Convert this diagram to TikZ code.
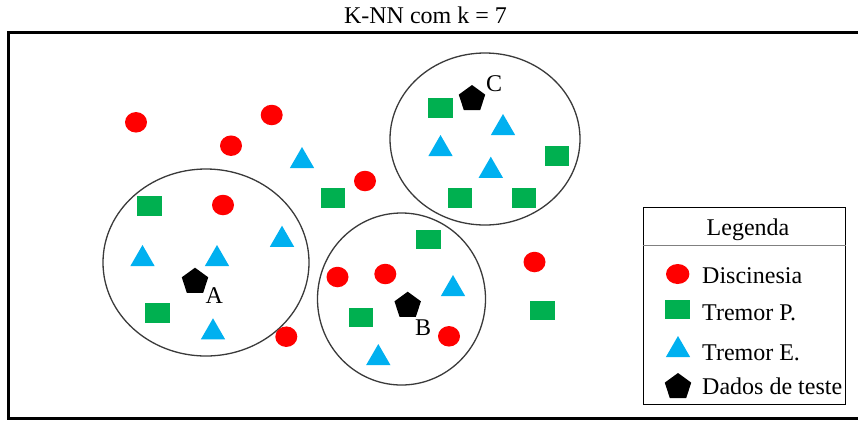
\documentclass[tikz,border=0pt]{standalone}
\usepackage{fontspec}
\setmainfont{Liberation Serif}
\usetikzlibrary{shapes.geometric}

\definecolor{disc}{HTML}{FF0000}
\definecolor{tremp}{HTML}{00B050}
\definecolor{treme}{HTML}{00B0F0}
\definecolor{ringgray}{HTML}{3A3A3A}

\tikzset{
  txt/.style={inner sep=0pt, font=\fontsize{24}{28}\selectfont},
  dot/.style={ellipse, fill=disc, inner sep=0pt, minimum width=22pt, minimum height=20.5pt},
  sq/.style={rectangle, fill=tremp, inner sep=0pt, minimum width=24.5pt, minimum height=19.5pt},
  tri/.style={regular polygon, regular polygon sides=3, fill=treme, inner sep=0pt, minimum size=28.2pt},
  pent/.style={regular polygon, regular polygon sides=5, fill=black, inner sep=0pt, minimum size=27.8pt},
  ring/.style={ellipse, draw=ringgray, line width=1.3pt, inner sep=0pt},
}

\begin{document}
\begin{tikzpicture}[x=1pt, y=-1pt]
\useasboundingbox (0,0) rectangle (858,421);
\fill[white] (0,0) rectangle (858,421);

% title
\node[txt, anchor=base] (title) at (425.5,23) {K-NN com k = 7};

% outer frame (open on the right)
\draw[line width=3pt] (870,32.3) -- (8.5,32.3) -- (8.5,418.5) -- (870,418.5);

% neighbourhoods of the test points
\node[ring, minimum width=206pt, minimum height=187pt] (ringA) at (206,262.5) {};
\node[ring, minimum width=168pt, minimum height=172pt] (ringB) at (401.5,299) {};
\node[ring, minimum width=190pt, minimum height=172pt] (ringC) at (485,139) {};

% Discinesia
\node[dot] (d1) at (136,122.3) {};
\node[dot] (d2) at (271.7,115) {};
\node[dot] (d3) at (231,145.7) {};
\node[dot] (d4) at (365,181) {};
\node[dot] (d5) at (223,205) {};
\node[dot] (d6) at (286.3,336.7) {};
\node[dot] (d7) at (337.5,277) {};
\node[dot] (d8) at (385.3,274) {};
\node[dot] (d9) at (449,336.3) {};
\node[dot] (d10) at (534.5,262) {};

% Tremor P.
\node[sq] (p1) at (149.7,206) {};
\node[sq] (p2) at (333,198) {};
\node[sq] (p3) at (157.5,313) {};
\node[sq] (p4) at (428.5,239.5) {};
\node[sq] (p5) at (360.8,317.5) {};
\node[sq] (p6) at (440.5,107.8) {};
\node[sq] (p7) at (556.8,156.2) {};
\node[sq] (p8) at (459.8,198) {};
\node[sq] (p9) at (524.2,198) {};
\node[sq] (p10) at (542.3,310.3) {};

% Tremor E.
\node[tri] (e1) at (302,161.1) {};
\node[tri] (e2) at (282,239.8) {};
\node[tri] (e3) at (142.5,259.1) {};
\node[tri] (e4) at (217,259.1) {};
\node[tri] (e5) at (213,332.4) {};
\node[tri] (e6) at (453,289.1) {};
\node[tri] (e7) at (378.3,358.1) {};
\node[tri] (e8) at (503,128.1) {};
\node[tri] (e9) at (440.5,149.1) {};
\node[tri] (e10) at (490.8,170.8) {};

% test points
\node[pent] (tA) at (195,281.6) {};
\node[pent] (tB) at (407.7,305.6) {};
\node[pent] (tC) at (472,98.9) {};
\node[txt, anchor=base west] (lA) at (205.5,303.3) {A};
\node[txt, anchor=base west] (lB) at (415,335) {B};
\node[txt, anchor=base west] (lC) at (486,91.7) {C};

% legend
\node[draw, line width=1pt, inner sep=0pt, minimum width=202pt, minimum height=196.5pt] (legend) at (744,305.75) {};
\draw[line width=1pt, gray] (legend.west |- 0,245.7) -- (legend.east |- 0,245.7);
\node[txt, anchor=base] (legTitle) at (748,235) {Legenda};

\node[dot, minimum width=23.4pt, minimum height=20pt] (kd) at (677.7,274) {};
\node[sq, minimum width=25pt, minimum height=19pt] (kp) at (677.5,309.5) {};
\node[tri] (ke) at (678,350.1) {};
\node[pent] (kt) at (678,386.9) {};

\node[txt, anchor=base west] (td) at (702,283) {Discinesia};
\node[txt, anchor=base west] (tp) at (702,320.7) {Tremor P.};
\node[txt, anchor=base west] (te) at (702,360.7) {Tremor E.};
\node[txt, anchor=base west] (tt) at (702,394) {Dados de teste};
\end{tikzpicture}
\end{document}
